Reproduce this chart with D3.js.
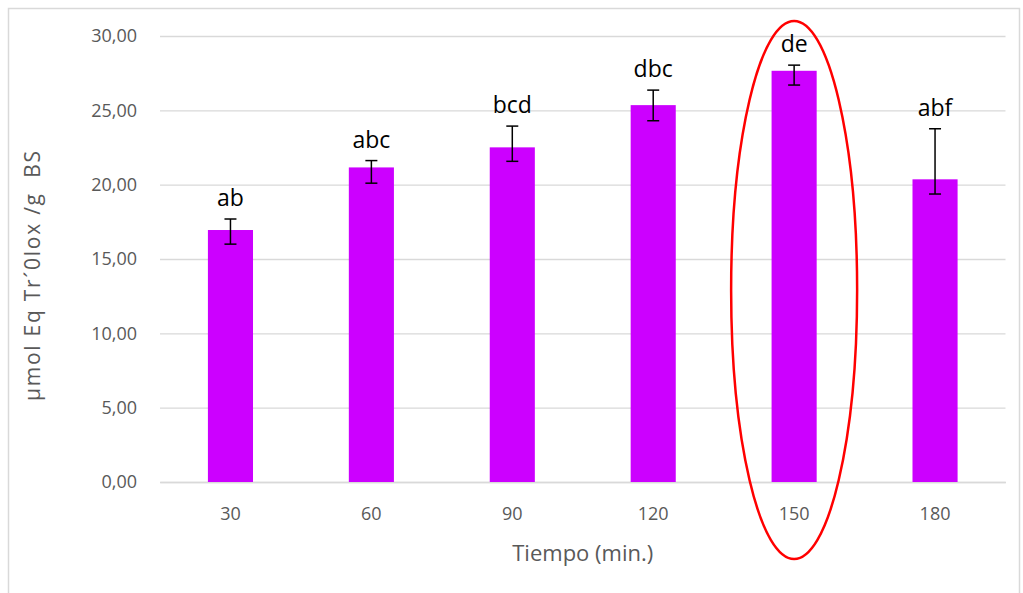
<!DOCTYPE html>
<html>
<head>
<meta charset="utf-8">
<script src="https://cdn.jsdelivr.net/npm/d3@7"></script>
<style>
  body { margin: 0; background: #fff; }
  svg text { font-family: "Open Sans", "Liberation Sans", sans-serif; }
</style>
</head>
<body>
<script>
var categories = ['30', '60', '90', '120', '150', '180'];
var values = [16.95, 21.16, 22.51, 25.35, 27.66, 20.36];
var errPlus = [0.74, 0.46, 1.43, 1.01, 0.38, 3.40];
var errMinus = [0.95, 1.06, 0.94, 1.05, 0.96, 0.99];
var letters = ['ab', 'abc', 'bcd', 'dbc', 'de', 'abf'];
var yTicks = [0, 5, 10, 15, 20, 25, 30];
var highlight = '150';

var chart = {
  'width': 1023,
  'height': 593,
  'left': 160,
  'right': 1005.5,
  'top': 36,
  'bottom': 482
};

var svg = d3.select('body').append('svg')
  .attr('width', chart.width)
  .attr('height', chart.height);

// outer chart frame
svg.append('rect')
  .attr('x', 8.5).attr('y', 8.5)
  .attr('width', 1011).attr('height', 600)
  .attr('fill', 'none')
  .attr('stroke', '#d9d9d9')
  .attr('stroke-width', 1.5);

var x = d3.scaleBand()
  .domain(categories)
  .range([chart.left, chart.right])
  .paddingInner(0.68)
  .paddingOuter(0.34);

var y = d3.scaleLinear()
  .domain([0, 30])
  .range([chart.bottom, chart.top]);

var fmt = function(d) { return d3.format('.2f')(d).replace('.', ','); };

// gridlines + y labels
var yAxis = svg.append('g')
  .attr('transform', 'translate(' + chart.left + ',0)')
  .call(d3.axisLeft(y).tickValues(yTicks).tickFormat(fmt)
    .tickSize(-(chart.right - chart.left)).tickPadding(23));
yAxis.select('.domain').remove();
yAxis.selectAll('line').attr('stroke', '#d9d9d9').attr('stroke-width', 1.3);
yAxis.selectAll('text').attr('fill', '#595959').style('font-size', '18px');

// x axis
var xAxis = svg.append('g')
  .attr('transform', 'translate(0,' + chart.bottom + ')')
  .call(d3.axisBottom(x).tickSize(0).tickPadding(25));
xAxis.select('.domain').attr('stroke', '#d9d9d9').attr('stroke-width', 1.5);
xAxis.selectAll('text').attr('fill', '#595959').style('font-size', '18px');

var rows = categories.map(function(c, i) {
  return { cat: c, v: values[i], hi: values[i] + errPlus[i], lo: values[i] - errMinus[i], label: letters[i] };
});

svg.selectAll('.bar').data(rows)
  .enter().append('rect')
  .attr('class', 'bar')
  .attr('x', function(d) { return x(d.cat); })
  .attr('y', function(d) { return y(d.v); })
  .attr('width', x.bandwidth())
  .attr('height', function(d) { return y(0) - y(d.v); })
  .attr('fill', '#cc00ff');

var cx = function(d) { return x(d.cat) + x.bandwidth() / 2; };

var err = svg.selectAll('.err').data(rows).enter().append('g')
  .attr('class', 'err')
  .attr('stroke', '#000')
  .attr('stroke-width', 1.5);
err.append('line')
  .attr('x1', cx).attr('x2', cx)
  .attr('y1', function(d) { return y(d.hi); })
  .attr('y2', function(d) { return y(d.lo); });
err.append('line')
  .attr('x1', function(d) { return cx(d) - 6; }).attr('x2', function(d) { return cx(d) + 6; })
  .attr('y1', function(d) { return y(d.hi); }).attr('y2', function(d) { return y(d.hi); });
err.append('line')
  .attr('x1', function(d) { return cx(d) - 6; }).attr('x2', function(d) { return cx(d) + 6; })
  .attr('y1', function(d) { return y(d.lo); }).attr('y2', function(d) { return y(d.lo); });

svg.selectAll('.lbl').data(rows)
  .enter().append('text')
  .attr('class', 'lbl')
  .attr('x', cx)
  .attr('y', function(d) { return y(d.hi) - 13; })
  .attr('text-anchor', 'middle')
  .attr('fill', '#000')
  .style('font-size', '23px')
  .text(function(d) { return d.label; });

// axis titles
svg.append('text')
  .attr('x', (chart.left + chart.right) / 2)
  .attr('y', 561)
  .attr('text-anchor', 'middle')
  .attr('fill', '#595959')
  .style('font-size', '22px')
  .text('Tiempo (min.)');

svg.append('text')
  .attr('transform', 'translate(40,' + ((chart.top + chart.bottom) / 2 + 17) + ') rotate(-90)')
  .attr('text-anchor', 'middle')
  .attr('fill', '#595959')
  .style('font-size', '21px')
  .attr('textLength', 250)
  .attr('lengthAdjust', 'spacing')
  .text('µmol Eq Tr´0lox /g\u00a0\u00a0BS');

// red ellipse around highlighted bar
svg.append('ellipse')
  .attr('cx', x(highlight) + x.bandwidth() / 2)
  .attr('cy', 290)
  .attr('rx', 63)
  .attr('ry', 269)
  .attr('fill', 'none')
  .attr('stroke', '#ff0000')
  .attr('stroke-width', 2.5);
</script>
</body>
</html>
